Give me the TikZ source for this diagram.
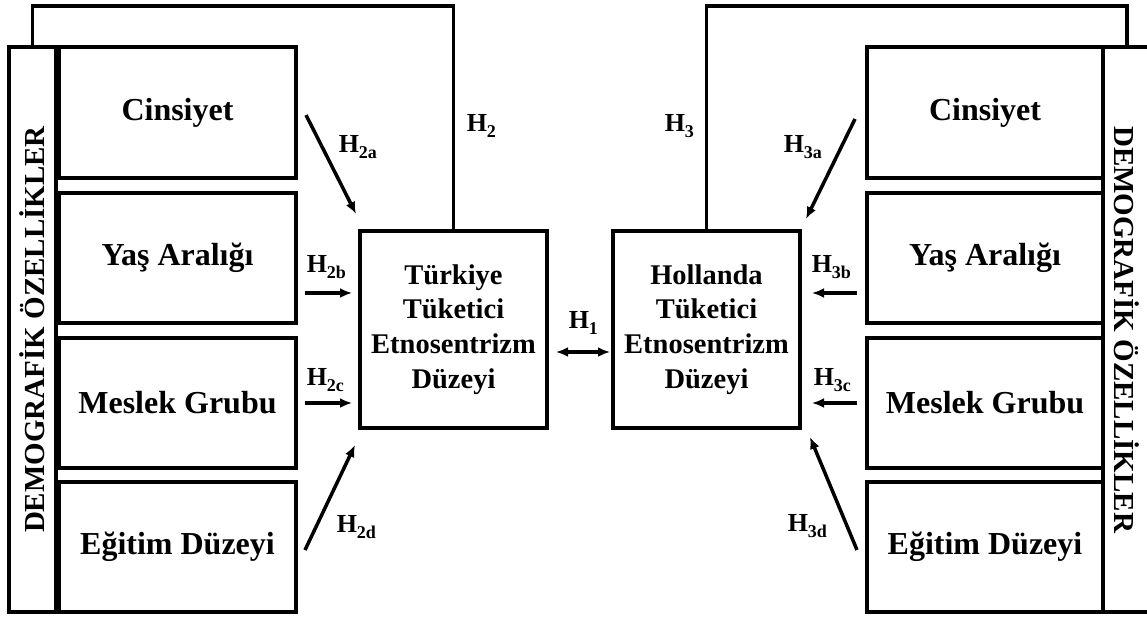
\documentclass[tikz,border=0pt]{standalone}
\usepackage{fontspec}
\setmainfont{Liberation Serif}
\usetikzlibrary{arrows.meta}
\newcommand{\hlab}[1]{H\raisebox{-6pt}{\fontsize{18}{18}\selectfont #1}}

\begin{document}
\begin{tikzpicture}[>={Latex[length=12pt,width=10pt]},x=1pt,y=-1pt,line width=3.5pt,
    catbox/.style={draw,outer sep=0pt,minimum height=130pt,font=\bfseries\fontsize{32}{36}\selectfont},
    levelbox/.style={draw,outer sep=0pt,minimum width=187pt,minimum height=197pt,align=center,
        font=\bfseries\fontsize{28.5}{34.7}\selectfont},
    sidebox/.style={draw,outer sep=0pt,minimum height=565pt},
    sidetext/.style={font=\bfseries\fontsize{29}{30}\selectfont},
    hl/.style={anchor=base west,inner sep=0pt,font=\bfseries\fontsize{26}{26}\selectfont}]
                \useasboundingbox (0,0) rectangle (1147,619);
                % left side
                \node[sidebox,minimum width=47pt] (demL) at (32.5,329.5) {};
                \node[sidetext,rotate=90] at (demL.center) {DEMOGRAFİK ÖZELLİKLER};
                \node[catbox,minimum width=237pt,minimum height=131pt] (cinsL) at (177.5,112.5) {Cinsiyet};
                \node[catbox,minimum width=237pt] (yasL) at (177.5,258) {Yaş Aralığı};
                \node[catbox,minimum width=237pt] (mesL) at (177.5,403) {Meslek Grubu};
                \node[catbox,minimum width=237pt] (egitL) at (177.5,547) {Eğitim Düzeyi};
                % right side
                \node[sidebox,minimum width=48pt] (demR) at (1127,329.5) {};
                \node[sidetext,rotate=-90] at (demR.center) {DEMOGRAFİK ÖZELLİKLER};
                \node[catbox,minimum width=236pt,minimum height=131pt] (cinsR) at (985,112.5) {Cinsiyet};
                \node[catbox,minimum width=236pt] (yasR) at (985,258) {Yaş Aralığı};
                \node[catbox,minimum width=236pt] (mesR) at (985,403) {Meslek Grubu};
                \node[catbox,minimum width=236pt] (egitR) at (985,547) {Eğitim Düzeyi};
                % ethnocentrism levels
                \node[levelbox] (turk) at (453.5,329.5) {Türkiye\\Tüketici\\Etnosentrizm\\Düzeyi};
                \node[levelbox] (holl) at (706.5,329.5) {Hollanda\\Tüketici\\Etnosentrizm\\Düzeyi};
                \draw (demL.north) -- ++(0,-41) -| (turk.north);
                \draw (holl.north) -- ++(0,-225) -| (demR.north);
                \draw[<->] ([shift={(9,22.5)}]turk.east) -- ([shift={(-3,22.5)}]holl.west);
                % H2 arrows
                \draw[->] ([shift={(10,2.5)}]cinsL.east) -- ([shift={(-4,-17)}]turk.north west);
                \draw[->] ([shift={(9,35)}]yasL.east) -- ([shift={(-8,-36.5)}]turk.west);
                \draw[->] ([shift={(9,0)}]mesL.east) -- ([shift={(-8,73.5)}]turk.west);
                \draw[->] ([shift={(9,3)}]egitL.east) -- ([shift={(-5,17)}]turk.south west);
                % H3 arrows
                \draw[->] ([shift={(-12,6.5)}]cinsR.west) -- ([shift={(6,-12)}]holl.north east);
                \draw[->] ([shift={(-10,35)}]yasR.west) -- ([shift={(12,-36.5)}]holl.east);
                \draw[->] ([shift={(-10,0)}]mesR.west) -- ([shift={(12,73.5)}]holl.east);
                \draw[->] ([shift={(-10,3)}]egitR.west) -- ([shift={(10,9)}]holl.south east);
                % labels
                \node[hl] (h1) at (567,328) {\hlab{1}};
                \node[hl] (h2) at (465,131) {\hlab{2}};
                \node[hl] (h3) at (663,131) {\hlab{3}};
                \node[hl] (h2a) at (337,152) {\hlab{2a}};
                \node[hl] (h2b) at (305,272) {\hlab{2b}};
                \node[hl] (h2c) at (305,385) {\hlab{2c}};
                \node[hl] (h2d) at (335,532) {\hlab{2d}};
                \node[hl] (h3a) at (782,152) {\hlab{3a}};
                \node[hl] (h3b) at (810,272) {\hlab{3b}};
                \node[hl] (h3c) at (812,385) {\hlab{3c}};
                \node[hl] (h3d) at (786,531) {\hlab{3d}};
            \end{tikzpicture}
\end{document}
